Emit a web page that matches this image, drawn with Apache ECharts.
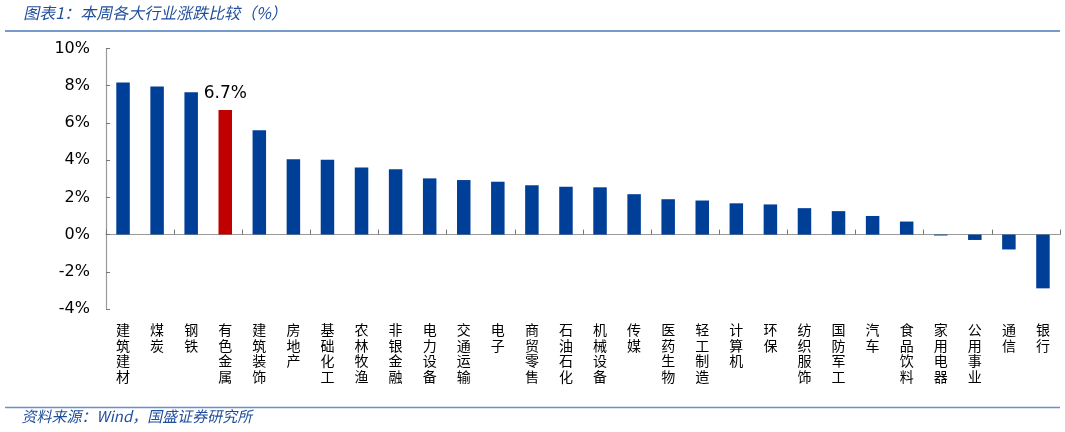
<!DOCTYPE html>
<html>
<head>
<meta charset="utf-8">
<script src="https://cdn.jsdelivr.net/npm/echarts@6/dist/echarts.min.js"></script>
<style>
html,body{margin:0;padding:0;background:#fff;}
#c{width:1065px;height:432px;}
</style>
</head>
<body>
<div id="c"></div>
<script>
const categories = ['建筑建材','煤炭','钢铁','有色金属','建筑装饰','房地产','基础化工','农林牧渔','非银金融','电力设备','交通运输','电子','商贸零售','石油石化','机械设备','传媒','医药生物','轻工制造','计算机','环保','纺织服饰','国防军工','汽车','食品饮料','家用电器','公用事业','通信','银行'];
const changes = [8.17,7.96,7.65,6.7,5.61,4.05,4.02,3.61,3.51,3.02,2.93,2.84,2.65,2.57,2.54,2.17,1.90,1.83,1.68,1.62,1.42,1.26,1.00,0.70,-0.05,-0.29,-0.80,-2.89];
const highlight = '有色金属';
const yTicks = {min:-4, max:10, interval:2};
const titleText = '图表1：本周各大行业涨跌比较（%）';
const sourceText = '资料来源：Wind，国盛证券研究所';

const chart = echarts.init(document.getElementById('c'));
const blue = '#003f98', red = '#c00000';
const cjk = '"Noto Sans CJK SC", sans-serif';

chart.setOption({
  animation:false,
  grid:{left:106, right:5, top:48.5, bottom:123},
  graphic:[
    {type:'text', x:22, y:5, skewX:-0.22, originX:0, originY:20, style:{text:titleText, fill:'#1f4e9a', font:'16px ' + cjk}},
    {type:'line', shape:{x1:5, y1:31, x2:1060, y2:31}, style:{stroke:'#4a78bd', lineWidth:1.5}},
    {type:'line', shape:{x1:5, y1:407.5, x2:1060, y2:407.5}, style:{stroke:'#6a8fcc', lineWidth:1.5}},
    {type:'text', x:20, y:409, skewX:-0.22, originX:0, originY:20, style:{text:sourceText, fill:'#1f4e9a', font:'15px ' + cjk}}
  ],
  xAxis:[
    {type:'category', data:categories, position:'bottom',
     axisLine:{onZero:true, lineStyle:{color:'#9a9a9a', width:1.2}},
     axisTick:{show:true, inside:true, length:5, lineStyle:{color:'#777'}},
     axisLabel:{show:false}},
    {type:'category', data:categories, position:'bottom', offset:0,
     axisLine:{show:false, onZero:false}, axisTick:{show:false},
     axisLabel:{show:true, interval:0, margin:13, color:'#000', fontSize:14, lineHeight:15.5,
       fontFamily:cjk, formatter:v=>v.split('').join('\n')}}
  ],
  yAxis:{type:'value', min:yTicks.min, max:yTicks.max, interval:yTicks.interval,
    axisLine:{show:true, lineStyle:{color:'#9a9a9a', width:1.2}},
    axisTick:{show:true, inside:true, length:4, lineStyle:{color:'#777'}},
    splitLine:{show:false},
    axisLabel:{formatter:'{value}%', color:'#000', fontSize:16, margin:16, fontFamily:'"DejaVu Sans", sans-serif'}},
  series:[{
    type:'bar', barWidth:13.5,
    data:changes.map((v,i)=>categories[i]===highlight
      ? {value:v, itemStyle:{color:red}, label:{show:true, position:'top', distance:8, formatter:p=>p.value.toFixed(1)+'%', color:'#000', fontSize:17, fontFamily:'"DejaVu Sans", sans-serif'}}
      : {value:v, itemStyle:{color:blue}})
  }]
});
</script>
</body>
</html>
